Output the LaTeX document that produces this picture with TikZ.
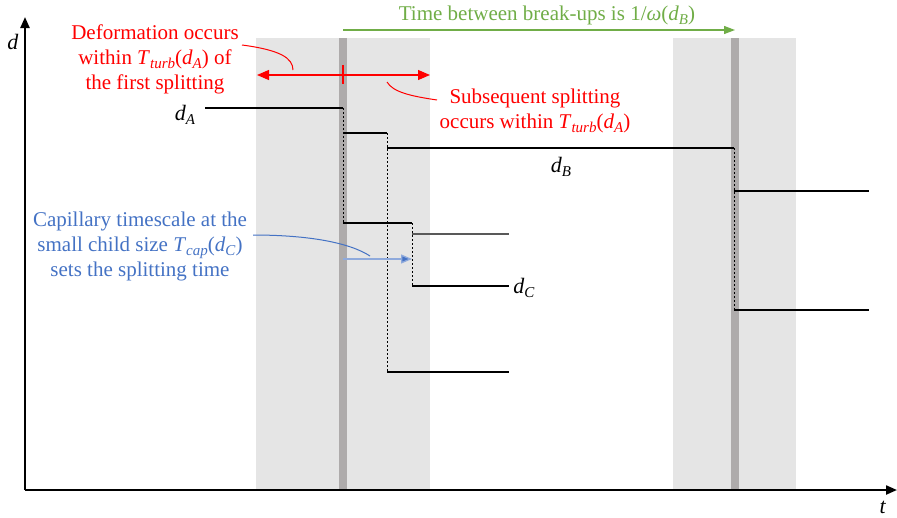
\documentclass[tikz,border=0pt]{standalone}
\usepackage{fontspec}
\setmainfont{Liberation Serif}
\usetikzlibrary{arrows.meta}
\definecolor{bandgray}{RGB}{229,229,229}
\definecolor{bargray}{RGB}{174,171,171}
\definecolor{myred}{RGB}{255,0,0}
\definecolor{mygreen}{RGB}{112,173,71}
\definecolor{myblue}{RGB}{68,114,196}
\newcommand{\mysub}[1]{\raisebox{-0.45ex}{\fontsize{15}{15}\selectfont\textit{#1}}}
\tikzset{
  band/.style={fill=bandgray, draw=none},
  bar/.style={fill=bargray, draw=none},
  solidline/.style={draw=black, line width=1.1pt},
  dashline/.style={draw=black, line width=0.9pt, dash pattern=on 2.2pt off 1.8pt},
  axisline/.style={draw=black, line width=2.2pt, -{Triangle[length=11pt,width=9pt]}},
  redarrow/.style={draw=myred, line width=1.2pt},
  redtext/.style={text=myred, align=center, font=\fontsize{21}{25}\selectfont},
  greentext/.style={text=mygreen, align=center, font=\fontsize{21}{25}\selectfont},
  bluetext/.style={text=myblue, align=center, font=\fontsize{21}{25}\selectfont},
  lbl/.style={font=\fontsize{22}{26}\selectfont},
}
\begin{document}
\begin{tikzpicture}[x=1pt,y=-1pt]
\useasboundingbox (0,0) rectangle (897,517);
% bands
\fill[band] (256,38) rectangle (430,490);
\fill[band] (673,38) rectangle (796,490);
\fill[bar] (339,38) rectangle (347,490);
\fill[bar] (731,38) rectangle (739,490);
% axes
\coordinate (O) at (25,490);
\coordinate (Ytop) at (25,17);
\coordinate (Xend) at (897,490);
\draw[axisline] (O) -- (Ytop);
\draw[axisline] (O) -- (Xend);
\node[lbl] (dlab) at (13,42) {\textit{d}};
\node[lbl] (tlab) at (883,507) {\textit{t}};
% step coordinates
\coordinate (A0) at (205,108);
\coordinate (A1) at (343,108);
\coordinate (A2) at (343,133);
\coordinate (A3) at (387,133);
\coordinate (A4) at (387,148);
\coordinate (B1) at (734,148);
\coordinate (B2) at (734,191);
\coordinate (B3) at (869,191);
\coordinate (B4) at (734,310);
\coordinate (B5) at (869,310);
\coordinate (C0) at (343,223);
\coordinate (C1) at (412,223);
\coordinate (C2) at (412,234);
\coordinate (C3) at (509,234);
\coordinate (C4) at (412,286);
\coordinate (C5) at (509,286);
\coordinate (E0) at (387,372);
\coordinate (E1) at (509,372);
% dashed verticals
\draw[dashline] (A1) -- (C0);
\draw[dashline] (A3) -- (E0);
\draw[dashline] (C1) -- (C4);
\draw[dashline] (B1) -- (B4);
% solid horizontals
\draw[solidline] (A0) -- (A1);
\draw[solidline] (A2) -- (A3);
\draw[solidline] (A4) -- (B1);
\draw[solidline] (B2) -- (B3);
\draw[solidline] (B4) -- (B5);
\draw[solidline] (C0) -- (C1);
\draw[solidline, draw=black!65] (C2) -- (C3);
\draw[solidline] (C4) -- (C5);
\draw[solidline] (E0) -- (E1);
% size labels
\node[lbl] (dA) at (185,115) {\textit{d}\mysub{A}};
\node[lbl] (dB) at (561,167) {\textit{d}\mysub{B}};
\node[lbl] (dC) at (524,288) {\textit{d}\mysub{C}};
% red annotation
\coordinate (RL) at (257,75);
\coordinate (RR) at (430,75);
\coordinate (Rt1) at (343,65);
\coordinate (Rt2) at (343,84);
\draw[redarrow, {Triangle[length=12pt,width=10pt]}-{Triangle[length=12pt,width=10pt]}] (RL) -- (RR);
\draw[redarrow] (Rt1) -- (Rt2);
\node[redtext] (red1) at (155,59) {Deformation occurs\\within \textit{T}\mysub{turb}(\textit{d}\mysub{A}) of\\the first splitting};
\coordinate (rc1a) at (242,45);
\coordinate (rc1b) at (293,70);
\draw[redarrow, line width=1pt] (rc1a) .. controls (280,50) and (293,58) .. (rc1b);
\node[redtext] (red2) at (535,111) {Subsequent splitting\\occurs within \textit{T}\mysub{turb}(\textit{d}\mysub{A})};
\coordinate (rc2a) at (387,82);
\coordinate (rc2b) at (437,100);
\draw[redarrow, line width=1pt] (rc2a) .. controls (393,92) and (410,96) .. (rc2b);
% green annotation
\node[greentext] (green) at (547,15) {Time between break-ups is 1/\textit{ω}(\textit{d}\mysub{B})};
\coordinate (G0) at (343,30);
\coordinate (G1) at (735,30);
\draw[draw=mygreen, line width=1.2pt, -{Triangle[length=11pt,width=8pt]}] (G0) -- (G1);
% blue annotation
\node[bluetext] (blue) at (140,246) {Capillary timescale at the\\small child size \textit{T}\mysub{cap}(\textit{d}\mysub{C})\\sets the splitting time};
\coordinate (bc0) at (253,235);
\coordinate (bc1) at (370,256);
\draw[draw=myblue, line width=1pt] (bc0) .. controls (310,235) and (350,243) .. (bc1);
\coordinate (BA0) at (343,259);
\coordinate (BA1) at (412,259);
\draw[draw=myblue!60, line width=1.3pt, -{Triangle[length=11pt,width=9pt,fill=myblue]}] (BA0) -- (BA1);
\end{tikzpicture}
\end{document}
